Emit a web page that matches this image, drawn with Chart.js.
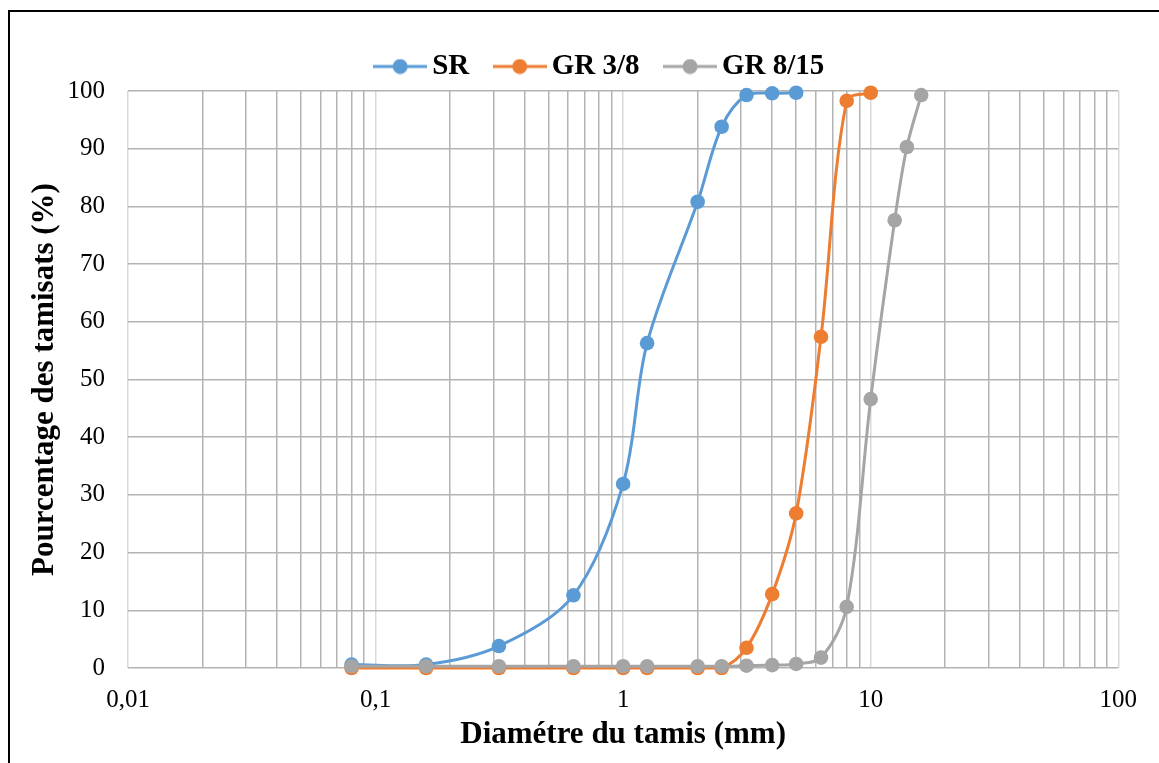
<!DOCTYPE html>
<html>
<head>
<meta charset="utf-8">
<script src="https://cdn.jsdelivr.net/npm/chart.js@4.4.1/dist/chart.umd.min.js"></script>
<style>
  html, body { margin: 0; padding: 0; background: #ffffff; overflow: hidden; }
  #frame { position: absolute; left: 8px; top: 10px; width: 1200px; height: 800px; border: 2px solid #000; box-sizing: border-box; }
  #wrap { position: absolute; left: 0; top: 0; width: 1159px; height: 763px; }
</style>
</head>
<body>
<div id="frame"></div>
<div id="wrap"><canvas id="chart" width="1159" height="763"></canvas></div>
<script>
// Sieve openings (mm)
const sieveSizes = [0.08, 0.16, 0.315, 0.63, 1, 1.25, 2, 2.5, 3.15, 4, 5, 6.3, 8, 10, 12.5, 14, 16];

// Cumulative passing (%) for each material, in sieve order
const srPassing   = [0.6, 0.6, 3.8, 12.6, 31.9, 56.3, 80.8, 93.8, 99.3, 99.6, 99.7];
const gr38Passing = [0, 0, 0, 0, 0, 0, 0, 0, 3.5, 12.8, 26.8, 57.4, 98.3, 99.7];
const gr815Passing = [0.3, 0.3, 0.3, 0.3, 0.3, 0.3, 0.3, 0.3, 0.4, 0.5, 0.7, 1.8, 10.6, 46.6, 77.6, 90.3, 99.3];

const seriesNames = ['SR', 'GR 3/8', 'GR 8/15'];
const seriesColors = ['#5b9bd5', '#ed7d31', '#a5a5a5'];

// Axis labels
const xDecades = [0.01, 0.1, 1, 10, 100];
const xDecadeLabels = ['0,01', '0,1', '1', '10', '100'];
const yTicks = [0, 10, 20, 30, 40, 50, 60, 70, 80, 90, 100];

const FONT = "'Liberation Serif', 'Times New Roman', serif";

function toPoints(values) {
  return values.map((v, i) => ({ x: sieveSizes[i], y: v }));
}

// Legend swatch: short line with a round marker in the middle
function swatch(color) {
  const c = document.createElement('canvas');
  c.width = 54; c.height = 16;
  const g = c.getContext('2d');
  g.strokeStyle = color; g.lineWidth = 3;
  g.beginPath(); g.moveTo(0, 8); g.lineTo(54, 8); g.stroke();
  g.fillStyle = color;
  g.beginPath(); g.arc(27, 8, 7.5, 0, Math.PI * 2); g.fill();
  return c;
}
const swatches = seriesColors.map(swatch);

// Full log grid: 1..9 times each decade, plus the final decade
const xGridValues = [];
for (let d = 0; d < xDecades.length - 1; d++) {
  for (let k = 1; k <= 9; k++) xGridValues.push(Number((k * xDecades[d]).toPrecision(3)));
}
xGridValues.push(xDecades[xDecades.length - 1]);

function decadeIndex(v) {
  for (let i = 0; i < xDecades.length; i++) {
    if (Math.abs(v - xDecades[i]) < xDecades[i] * 1e-6) return i;
  }
  return -1;
}

const datasetsSrc = [srPassing, gr38Passing, gr815Passing];
const datasets = datasetsSrc.map((vals, i) => ({
  label: seriesNames[i],
  data: toPoints(vals),
  borderColor: seriesColors[i],
  backgroundColor: seriesColors[i],
  borderWidth: 3,
  pointRadius: 7.3,
  pointHoverRadius: 7.3,
  pointBorderWidth: 0,
  pointBackgroundColor: seriesColors[i],
  tension: 0.33,
  clip: false,
  order: 2 - i
}));

new Chart(document.getElementById('chart'), {
  type: 'line',
  data: { datasets },
  options: {
    responsive: false,
    animation: false,
    layout: { padding: { left: 48, right: 0, top: 19, bottom: 0 } },
    plugins: {
      tooltip: { enabled: false },
      legend: {
        position: 'top',
        align: 'center',
        labels: {
          usePointStyle: true,
          pointStyleWidth: 35,
          padding: 33,
          color: '#000',
          font: { family: FONT, size: 29, weight: 'bold' },
          sort: (a, b) => a.datasetIndex - b.datasetIndex,
          generateLabels: (chart) => {
            const items = Chart.defaults.plugins.legend.labels.generateLabels(chart);
            items.forEach(it => { it.pointStyle = swatches[it.datasetIndex]; });
            return items;
          }
        }
      }
    },
    scales: {
      x: {
        type: 'logarithmic',
        min: 0.01,
        max: 100,
        afterFit: (s) => { s.height = 95; },
        afterBuildTicks: (s) => { s.ticks = xGridValues.map(v => ({ value: v })); },
        border: { display: false },
        grid: {
          drawTicks: false,
          lineWidth: 1.5,
          color: (ctx) => (ctx.tick && decadeIndex(ctx.tick.value) >= 0) ? '#d9d9d9' : '#b3b3b3'
        },
        ticks: {
          autoSkip: false,
          maxRotation: 0,
          minRotation: 0,
          padding: 22,
          color: '#000',
          font: { family: FONT, size: 25, lineHeight: 0.8 },
          callback: (v) => {
            const i = decadeIndex(v);
            return i >= 0 ? xDecadeLabels[i] : '';
          }
        },
        title: {
          display: true,
          text: 'Diamétre du tamis (mm)',
          color: '#000',
          font: { family: FONT, size: 31, weight: 'bold' },
          padding: { top: 0, bottom: 9 }
        }
      },
      y: {
        min: 0,
        max: 100,
        afterFit: (s) => { s.width = 80; },
        afterBuildTicks: (s) => { s.ticks = yTicks.map(v => ({ value: v })); },
        border: { display: false },
        grid: { drawTicks: false, lineWidth: 1.5, color: '#b3b3b3' },
        ticks: {
          padding: 23,
          color: '#000',
          font: { family: FONT, size: 25 }
        },
        title: {
          display: true,
          text: 'Pourcentage des tamisats (%)',
          color: '#000',
          font: { family: FONT, size: 31, weight: 'bold' },
          padding: { top: -22, bottom: 0 }
        }
      }
    }
  }
});
</script>
</body>
</html>
